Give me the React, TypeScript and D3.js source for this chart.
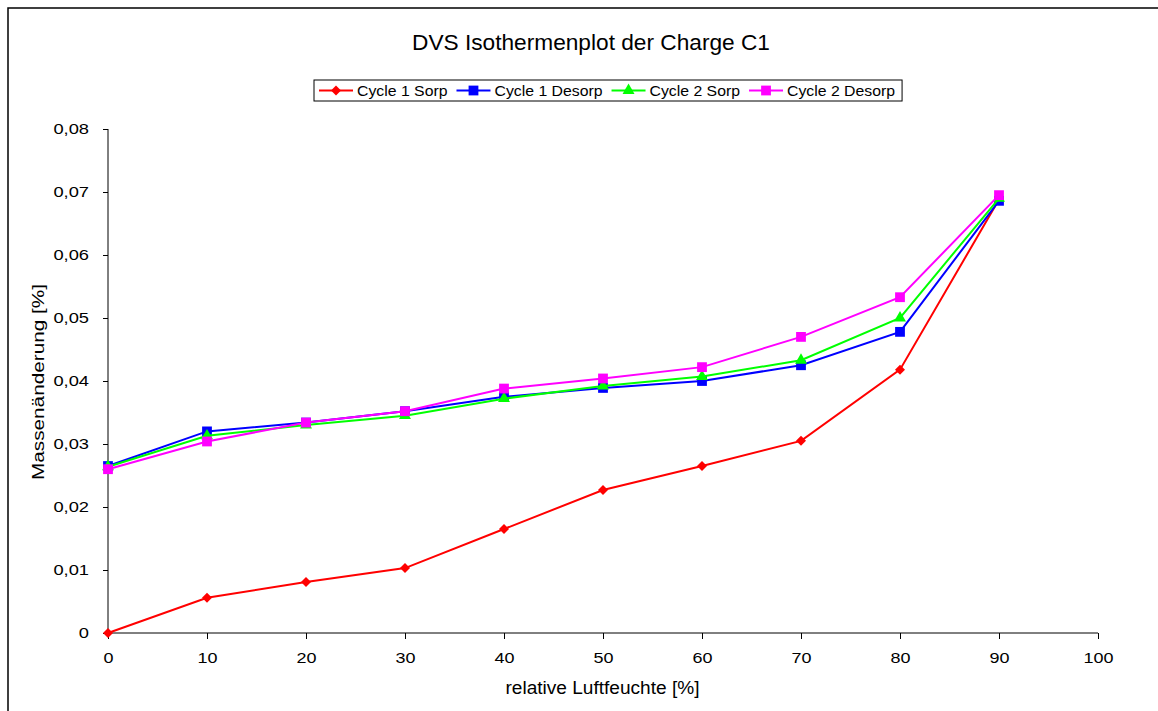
import React, { useEffect, useRef } from "react";
import * as d3 from "d3";

const humidity = [0, 10, 20, 30, 40, 50, 60, 70, 80, 90];
const cycle1Sorp = [0, 0.0056, 0.0081, 0.0103, 0.0165, 0.0227, 0.0265, 0.0305, 0.0418, 0.0688];
const cycle1Desorp = [0.0265, 0.032, 0.0334, 0.0352, 0.0375, 0.0389, 0.04, 0.0425, 0.0478, 0.0686];
const cycle2Sorp = [0.0264, 0.0313, 0.033, 0.0345, 0.0372, 0.0392, 0.0407, 0.0433, 0.05, 0.069];
const cycle2Desorp = [0.026, 0.0304, 0.0334, 0.0352, 0.0388, 0.0404, 0.0422, 0.047, 0.0533, 0.0695];
const seriesNames = ["Cycle 1 Sorp", "Cycle 1 Desorp", "Cycle 2 Sorp", "Cycle 2 Desorp"];
const seriesColors = ["#ff0000", "#0000ff", "#00ff00", "#ff00ff"];
const seriesShapes = ["diamond", "square", "triangle", "square"];
const xTicks = [0, 10, 20, 30, 40, 50, 60, 70, 80, 90, 100];
const yTicks = [0, 0.01, 0.02, 0.03, 0.04, 0.05, 0.06, 0.07, 0.08];

const FONT = "Liberation Sans, Arial, sans-serif";

function stretch(sel: any, factor: number) {
  sel.each(function (this: SVGTextElement) {
    const w = this.getComputedTextLength();
    d3.select(this).attr("textLength", w * factor).attr("lengthAdjust", "spacingAndGlyphs");
  });
}

export default function App() {
  const ref = useRef<SVGSVGElement>(null);
  useEffect(() => {
    const svg = d3.select(ref.current);
    svg.selectAll("*").remove();
    const W = 1158, H = 711;
    const x = d3.scaleLinear().domain([0, 100]).range([108, 1098]);
    const y = d3.scaleLinear().domain([0, 0.08]).range([633, 129]);

    svg.append("rect").attr("x", 0).attr("y", 0).attr("width", W).attr("height", H).attr("fill", "#fff");
    svg.append("rect").attr("x", 8).attr("y", 8).attr("width", W + 20).attr("height", H + 20)
      .attr("fill", "none").attr("stroke", "#000").attr("stroke-width", 1.5);

    const title = svg.append("text").attr("x", 591).attr("y", 50).attr("text-anchor", "middle")
      .attr("font-family", FONT).attr("font-size", 21.5).text("DVS Isothermenplot der Charge C1");
    title.attr("textLength", 358).attr("lengthAdjust", "spacingAndGlyphs");

    // axes
    const xAxis = svg.append("g").attr("transform", "translate(0,633)")
      .call(d3.axisBottom(x).tickValues(xTicks).tickSize(6).tickPadding(9).tickFormat(d3.format("d")));
    xAxis.select(".domain").attr("stroke", "#000").attr("d", "M108,0H1098");
    xAxis.selectAll(".tick line").attr("stroke", "#000");
    xAxis.selectAll("text").attr("font-family", FONT).attr("font-size", 15.5).attr("fill", "#000")
      .attr("dy", 0).attr("y", 30);
    stretch(xAxis.selectAll("text"), 1.16);

    const yAxis = svg.append("g").attr("transform", "translate(108,0)")
      .call(d3.axisLeft(y).tickValues(yTicks).tickSize(5).tickPadding(14)
        .tickFormat((d: any) => (d === 0 ? "0" : d3.format(".2f")(d).replace(".", ","))));
    yAxis.select(".domain").attr("stroke", "#000").attr("d", "M0,129V633");
    yAxis.selectAll(".tick line").attr("stroke", "#000");
    yAxis.selectAll("text").attr("font-family", FONT).attr("font-size", 15.5).attr("fill", "#000");
    stretch(yAxis.selectAll("text"), 1.18);

    const xt = svg.append("text").attr("x", 602.5).attr("y", 694).attr("text-anchor", "middle")
      .attr("font-family", FONT).attr("font-size", 17.5).text("relative Luftfeuchte [%]");
    stretch(xt, 195 / 179);
    const yt = svg.append("text").attr("transform", "translate(44,382) rotate(-90)").attr("text-anchor", "middle")
      .attr("font-family", FONT).attr("font-size", 16).text("Massenänderung [%]");
    yt.attr("textLength", 196).attr("lengthAdjust", "spacingAndGlyphs");

    const allSeries = [cycle1Sorp, cycle1Desorp, cycle2Sorp, cycle2Desorp];
    const symbolFor = (shape: string) => {
      if (shape === "diamond") return d3.symbol().type(d3.symbolDiamond2).size(64)();
      if (shape === "triangle") return d3.symbol().type(d3.symbolTriangle).size(62)();
      return d3.symbol().type(d3.symbolSquare).size(96)();
    };
    const line = d3.line<number>().x((_, i) => x(humidity[i])).y((d) => y(d));
    allSeries.forEach((vals, si) => {
      const g = svg.append("g");
      g.append("path").attr("d", line(vals)).attr("fill", "none")
        .attr("stroke", seriesColors[si]).attr("stroke-width", 2);
      g.selectAll("path.m").data(vals).enter().append("path").attr("class", "m")
        .attr("d", symbolFor(seriesShapes[si]))
        .attr("transform", (d, i) => `translate(${x(humidity[i])},${y(d)})`)
        .attr("fill", seriesColors[si]);
    });

    // legend
    const lg = svg.append("g");
    const box = lg.append("rect").attr("y", 80).attr("height", 21).attr("fill", "#fff")
      .attr("stroke", "#000").attr("stroke-width", 1);
    let cx = 319;
    seriesNames.forEach((name, si) => {
      lg.append("line").attr("x1", cx).attr("x2", cx + 34).attr("y1", 90.5).attr("y2", 90.5)
        .attr("stroke", seriesColors[si]).attr("stroke-width", 2);
      lg.append("path").attr("d", symbolFor(seriesShapes[si]))
        .attr("transform", `translate(${cx + 17},90.5)`).attr("fill", seriesColors[si]);
      const t = lg.append("text").attr("x", cx + 38).attr("y", 96)
        .attr("font-family", FONT).attr("font-size", 14.5).text(name);
      const w0 = (t.node() as SVGTextElement).getComputedTextLength();
      const w = w0 * 1.09;
      t.attr("textLength", w).attr("lengthAdjust", "spacingAndGlyphs");
      cx = cx + 38 + w + 9;
    });
    box.attr("x", 314).attr("width", cx - 314 - 2);
  }, []);
  return <svg ref={ref} width={1158} height={711} style={{ position: "absolute", left: 0, top: 0 }} />;
}
